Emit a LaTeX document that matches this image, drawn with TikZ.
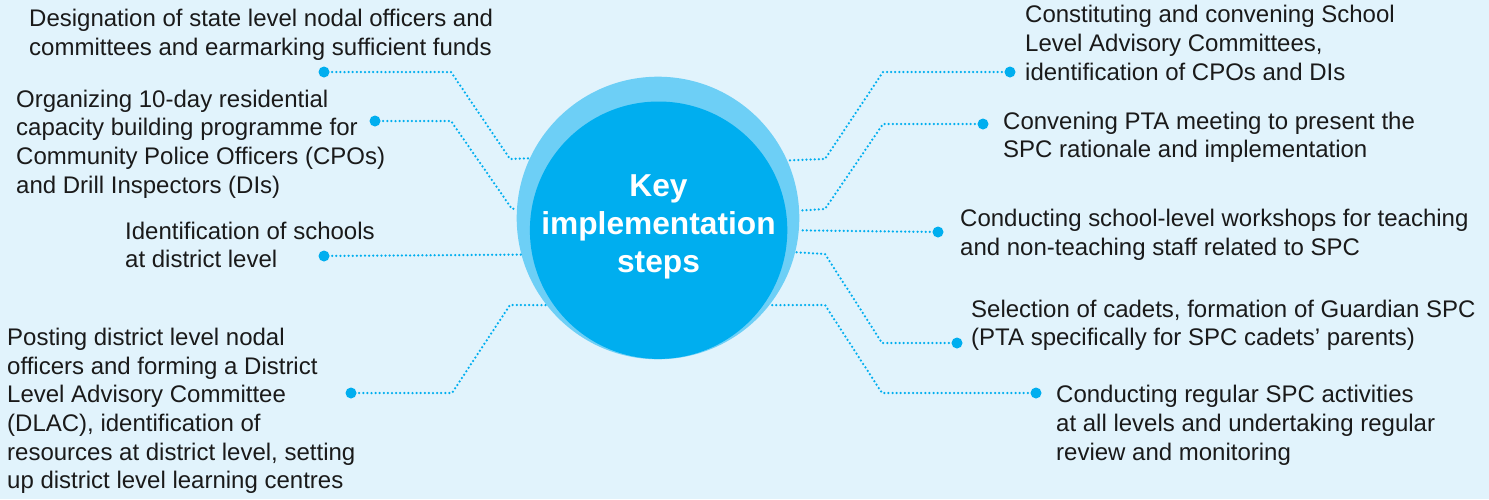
\documentclass[tikz,border=0pt]{standalone}
\usepackage{fontspec}
\setmainfont{Liberation Sans}
\definecolor{bgblue}{HTML}{E1F3FC}
\definecolor{cyanA}{HTML}{00AEEF}
\definecolor{cyanL}{HTML}{6DCFF6}
\definecolor{txt}{HTML}{1A1A1A}
\tikzset{
  lbl/.style={anchor=north west, inner sep=0pt, align=left, text=txt,
    font=\fontsize{24}{28.7}\selectfont},
  pin/.style={circle, fill=cyanA, inner sep=0pt, minimum size=11pt},
  link/.style={draw=cyanA, line width=2.5pt, line cap=round, dash pattern=on 0pt off 4.1pt},
}
\begin{document}
\begin{tikzpicture}[x=1pt,y=-1pt]
\fill[bgblue] (0,0) rectangle (1489,499);
\useasboundingbox (0,0) rectangle (1489,499);
% hub circles
\node[circle, fill=cyanL, inner sep=0pt, minimum size=282.6pt] (hub) at (658,218) {};
\node[circle, fill=cyanA, inner sep=0pt, minimum size=257.4pt] (core) at (658.6,230.2) {};
\node[align=center, text=white, inner sep=0pt,
  font=\bfseries\fontsize{31.7}{38}\selectfont] (title) at (658.5,227) {Key\\implementation\\steps};
% labels
\node[lbl] (L1) at (29,9.4) {Designation of state level nodal officers and\\committees and earmarking sufficient funds};
\node[lbl] (L2) at (16,89.7) {Organizing 10-day residential\\capacity building programme for\\Community Police Officers (CPOs)\\and Drill Inspectors (DIs)};
\node[lbl] (L3) at (125,221.7) {Identification of schools\\at district level};
\node[lbl] (L4) at (7,327.7) {Posting district level nodal\\officers and forming a District\\Level Advisory Committee\\(DLAC), identification of\\resources at district level, setting\\up district level learning centres};
\node[lbl] (R1) at (1025,5.2) {Constituting and convening School\\Level Advisory Committees,\\identification of CPOs and DIs};
\node[lbl] (R2) at (1003,111.7) {Convening PTA meeting to present the\\SPC rationale and implementation};
\node[lbl] (R3) at (960,209.2) {Conducting school-level workshops for teaching\\and non-teaching staff related to SPC};
\node[lbl] (R4) at (971,299.7) {Selection of cadets, formation of Guardian SPC\\(PTA specifically for SPC cadets’ parents)};
\node[lbl] (R5) at (1056,385.2) {Conducting regular SPC activities\\at all levels and undertaking regular\\review and monitoring};
% pins
\node[pin] (pA1) at (324,72) {};
\node[pin] (pA2) at (375,121) {};
\node[pin] (pA3) at (324,256) {};
\node[pin] (pA4) at (351,393) {};
\node[pin] (pB1) at (1010,72) {};
\node[pin] (pB2) at (983,124) {};
\node[pin] (pB3) at (938,232) {};
\node[pin] (pB4) at (957,343) {};
\node[pin] (pB5) at (1036,393) {};
% connectors
\draw[link] (pA1.center) -- (451,72) -- (510,159) -- (hub.155.3);
\draw[link] (pA2.center) -- (451,121) -- (512,209) -- (hub.176.3);
\draw[link] (pA3.center) -- (hub.195.6);
\draw[link] (pA4.center) -- (452,393) -- (510,305) -- (hub.218);
\draw[link] (pB1.center) -- (883,72) -- (825,159) -- (hub.24.7);
\draw[link] (pB2.center) -- (883,124) -- (825,209) -- (hub.3.65);
\draw[link] (pB3.center) -- (hub.-5.7);
\draw[link] (pB4.center) -- (882,343) -- (825,254) -- (hub.-14.75);
\draw[link] (pB5.center) -- (882,393) -- (825,305) -- (hub.-38);
\end{tikzpicture}
\end{document}
